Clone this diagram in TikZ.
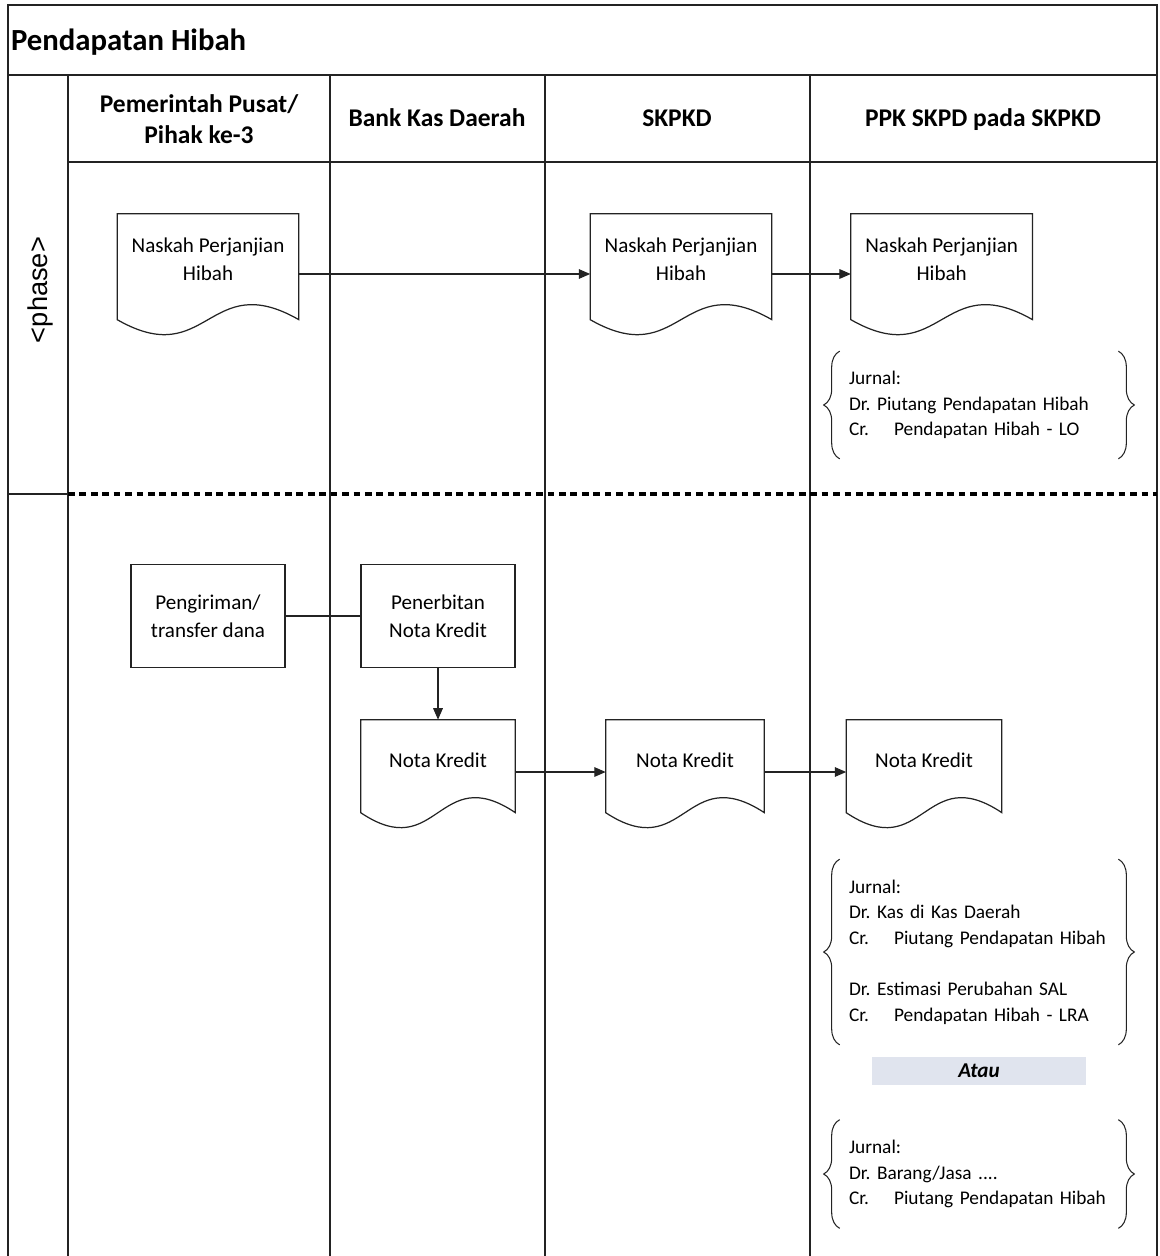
\documentclass[tikz,border=0pt]{standalone}
\usepackage{fontspec}
\usepackage{xcolor}
\setmainfont{Carlito}
\newfontfamily\phasefont{Liberation Sans}
\usetikzlibrary{positioning,calc,arrows.meta,decorations.pathreplacing}
\definecolor{lanegray}{RGB}{35, 35, 35}
\definecolor{ataufill}{RGB}{224, 228, 238}
\newcommand{\kredit}{\makebox[0.9cm][l]{Cr.}}
\frenchspacing
\hyphenpenalty=10000

\begin{document}
\begin{tikzpicture}[
    x=0.02cm, y=-0.02cm,
    every node/.style={align=center},
    lane/.style={draw=lanegray, line width=0.6pt},
    frame/.style={draw=lanegray, line width=0.9pt},
    header/.style={font=\fontsize{14.5}{17.6}\selectfont\bfseries},
    docu/.style={rectangle, inner sep=0pt, minimum width=3.62cm, minimum height=1.8cm, font=\fontsize{12}{16}\selectfont},
    docline/.style={draw=lanegray, line width=0.7pt},
    process/.style={rectangle, draw=lanegray, line width=0.7pt, minimum width=3.08cm, minimum height=2.06cm, font=\fontsize{12}{16}\selectfont},
    jurnal/.style={rectangle, align=left, inner xsep=0.18cm, inner ysep=0pt, text width=5.2cm, font=\fontsize{11}{14.6}\selectfont},
    brace/.style={decorate, decoration={brace, amplitude=0.32cm}, draw=lanegray, line width=0.6pt},
    arrow/.style={draw=lanegray, line width=0.6pt, -{Triangle[length=6.5pt,width=5.5pt]}},
    phaseline/.style={draw=black, line width=2.3pt, dash pattern=on 3.8pt off 2.7pt}
]
\useasboundingbox (0,0) rectangle (1159,1256);

% Frame and swimlanes
\draw[frame] (8,1256) -- (8,5) -- (1157,5) -- (1157,1256);
\draw[lane] (8,75) -- (1157,75);
\draw[lane] (68,162) -- (1157,162);
\foreach \x in {68,330,545,810}
    \draw[lane] (\x,75) -- (\x,1256);
\draw[lane] (8,494) -- (68,494);
\draw[phaseline] (68,494) -- (1157,494);

% Title and lane headers
\node[anchor=west, inner sep=1pt, font=\fontsize{17.5}{20}\selectfont\bfseries] (judul) at (9,42) {Pendapatan Hibah};
\node[header] (hPusat) at (199,119) {Pemerintah Pusat/\\Pihak ke-3};
\node[header, anchor=base] (hBank) at (437,127) {Bank Kas Daerah};
\node[header, anchor=base] (hSkpkd) at (677,127) {SKPKD};
\node[header, anchor=base] (hPpk) at (983,127) {PPK SKPD pada SKPKD};
\node[rotate=90, font=\phasefont\fontsize{15.5}{18}\selectfont] (fase) at (40,290) {<phase>};

% Phase 1: perjanjian
\node[docu] (naskahPusat) at (208,259) {Naskah Perjanjian\\Hibah};
\node[docu] (naskahSkpkd) at (681,259) {Naskah Perjanjian\\Hibah};
\node[docu, right=1.58cm of naskahSkpkd] (naskahPpk) {Naskah Perjanjian\\Hibah};
\node[jurnal, minimum height=2.14cm] (jurnalLo) at (979,405)
    {Jurnal:\\Dr. Piutang Pendapatan Hibah\\\kredit Pendapatan Hibah - LO};

% Phase 2: penerimaan dana
\node[process] (pengiriman) at (208,616) {Pengiriman/\\transfer dana};
\node[process] (penerbitan) at (438,616) {Penerbitan\\Nota Kredit};
\node[docu, minimum width=3.08cm, minimum height=1.6cm] (notaBank) at (438,760) {Nota Kredit};
\node[docu, minimum width=3.16cm, minimum height=1.6cm] (notaSkpkd) at (685,760) {Nota Kredit};
\node[docu, minimum width=3.1cm, minimum height=1.6cm] (notaPpk) at (924,760) {Nota Kredit};
\node[jurnal, minimum height=3.7cm] (jurnalLra) at (979,952)
    {Jurnal:\\Dr. Kas di Kas Daerah\\\kredit Piutang Pendapatan Hibah\\[14.5pt]Dr. Estimasi Perubahan SAL\\\kredit Pendapatan Hibah - LRA};
\node[fill=ataufill, minimum width=4.28cm, minimum height=0.56cm, inner sep=0pt, font=\fontsize{12}{14}\selectfont\bfseries\itshape] (atau) at (979,1071) {Atau};
\node[jurnal, minimum height=2.16cm] (jurnalBarang) at (979,1174)
    {Jurnal:\\Dr. Barang/Jasa ....\\\kredit Piutang Pendapatan Hibah};

% Document outlines
\foreach \n/\d in {naskahPusat/106, naskahSkpkd/106, naskahPpk/106, notaBank/93, notaSkpkd/93, notaPpk/93}
    \draw[docline] (\n.north west) -- (\n.north east) -- ($(\n.north east)+(0,\d)$)
        .. controls ($(\n.north)+(0,\d-52)$) and ($(\n.north)+(0,\d+52)$) .. ($(\n.north west)+(0,\d)$) -- cycle;

% Braces
\foreach \j in {jurnalLo, jurnalLra, jurnalBarang} {
    \draw[brace] (\j.south west) -- (\j.north west);
    \draw[brace] (\j.north east) -- (\j.south east);
}

% Connections
\draw[arrow] ($(naskahPusat.east)+(0,15)$) -- ($(naskahSkpkd.west)+(0,15)$);
\draw[arrow] ($(naskahSkpkd.east)+(0,15)$) -- ($(naskahPpk.west)+(0,15)$);
\draw[lane] (pengiriman) -- (penerbitan);
\draw[arrow] (penerbitan) -- (notaBank);
\draw[arrow] ($(notaBank.east)+(0,12)$) -- ($(notaSkpkd.west)+(0,12)$);
\draw[arrow] ($(notaSkpkd.east)+(0,12)$) -- ($(notaPpk.west)+(0,12)$);

\end{tikzpicture}
\end{document}
